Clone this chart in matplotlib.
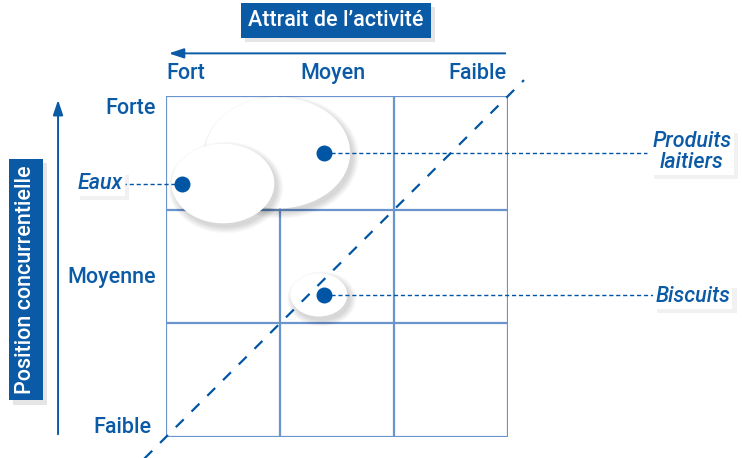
import matplotlib.pyplot as plt
import matplotlib.patheffects as pe
from matplotlib.patches import Ellipse

# grid units: x 0 = Fort (left) .. 3 = Faible (right); y 0 = Faible .. 3 = Forte
names = ['Produits laitiers', 'Eaux', 'Biscuits']
dot_x = [1.39, 0.14, 1.39]
dot_y = [2.50, 2.23, 1.25]
ell_x = [0.98, 0.50, 1.34]
ell_y = [2.50, 2.23, 1.25]
ell_w = [1.27, 0.90, 0.50]
ell_h = [0.98, 0.70, 0.38]
label_text = ['Produits\nlaitiers', 'Eaux', 'Biscuits']
label_x = [4.96, -0.38, 4.95]
label_y = [2.51, 2.23, 1.24]
leader_end = [4.22, -0.36, 4.27]

top_ticks = ['Fort', 'Moyen', 'Faible']
left_ticks = ['Forte', 'Moyenne', 'Faible']

BLUE = '#0a5aa6'
DOT = '#0055a5'
GRID = '#6b93cc'
FONT = ['Roboto', 'DejaVu Sans']

fig = plt.figure(figsize=(7.42, 4.58), dpi=100)
ax = fig.add_axes([166 / 742, 21 / 458, 342 / 742, 341 / 458])
ax.set_xlim(0, 3)
ax.set_ylim(0, 3)
ax.axis('off')

# 3x3 grid
for v in [0, 1, 2, 3]:
    ax.plot([v, v], [0, 3], color=GRID, lw=1.6, zorder=1, solid_capstyle='butt')
    ax.plot([0, 3], [v, v], color=GRID, lw=1.6, zorder=1, solid_capstyle='butt')

# bubbles with soft shadow
for i in range(len(names)):
    z = 3 + i * 2
    for k in range(10):
        grow = 0.012 * k
        ax.add_patch(Ellipse((ell_x[i] + 0.025, ell_y[i] - 0.035), ell_w[i] + grow, ell_h[i] + grow,
                             facecolor='#000000', alpha=0.016, lw=0, zorder=z))
    ax.add_patch(Ellipse((ell_x[i], ell_y[i]), ell_w[i], ell_h[i],
                         facecolor='white', edgecolor='none', zorder=z + 1))

# diagonal
ax.plot([-0.19, 3.14], [-0.19, 3.14], color=DOT, lw=1.6, ls=(0, (5, 5)),
        clip_on=False, zorder=10)

# leaders, dots and labels
for i in range(len(names)):
    ax.plot([dot_x[i], leader_end[i]], [dot_y[i], dot_y[i]], color=DOT, lw=1,
            ls=(0, (3, 2)), clip_on=False, zorder=11)
    ax.scatter([dot_x[i]], [dot_y[i]], s=110, color=DOT, zorder=12, clip_on=False)
    t = ax.text(label_x[i], label_y[i], label_text[i], ha='right', va='center',
                multialignment='center',
                fontsize=15.5, style='italic', weight='medium', color=BLUE, family=FONT,
                linespacing=1.0, zorder=13,
                bbox=dict(boxstyle='square,pad=0.1', fc='white', ec='none'))
    t.get_bbox_patch().set_path_effects(
        [pe.withSimplePatchShadow(offset=(3, -3), shadow_rgbFace='#bbbbbb', alpha=0.2)])

# top axis
ax.annotate('', xy=(0, 3.375), xytext=(3.0, 3.375), annotation_clip=False,
            arrowprops=dict(arrowstyle='-|>,head_length=0.9,head_width=0.3',
                            color=BLUE, lw=1.4))
for x, lab, ha in zip([0, 1.46, 2.99], top_ticks, ['left', 'center', 'right']):
    ax.text(x, 3.20, lab, ha=ha, va='center', fontsize=15.5, weight='medium',
            color=BLUE, family=FONT)
t = ax.text(1.49, 3.665, 'Attrait de l\u2019activit\u00e9', ha='center', va='center',
            fontsize=15.5, weight='medium', color='white', family=FONT,
            bbox=dict(boxstyle='square,pad=0.33', fc=BLUE, ec='none'))
t.get_bbox_patch().set_path_effects(
    [pe.withSimplePatchShadow(offset=(3, -3), shadow_rgbFace='#aaaaaa', alpha=0.3)])

# left axis
ax.annotate('', xy=(-0.947, 2.99), xytext=(-0.947, 0), annotation_clip=False,
            arrowprops=dict(arrowstyle='-|>,head_length=0.9,head_width=0.3',
                            color=BLUE, lw=1.4))
for y, lab, x in zip([2.89, 1.40, 0.08], left_ticks, [-0.09, -0.09, -0.13]):
    ax.text(x, y, lab, ha='right', va='center', fontsize=15.5, weight='medium',
            color=BLUE, family=FONT)
t = ax.text(-1.232, 1.385, 'Position concurrentielle', ha='center', va='center',
            rotation=90, fontsize=15.5, weight='medium', color='white', family=FONT,
            bbox=dict(boxstyle='square,pad=0.3', fc=BLUE, ec='none'))
t.get_bbox_patch().set_path_effects(
    [pe.withSimplePatchShadow(offset=(3, -3), shadow_rgbFace='#aaaaaa', alpha=0.3)])

fig.savefig('out.png', dpi=100, facecolor='white')
